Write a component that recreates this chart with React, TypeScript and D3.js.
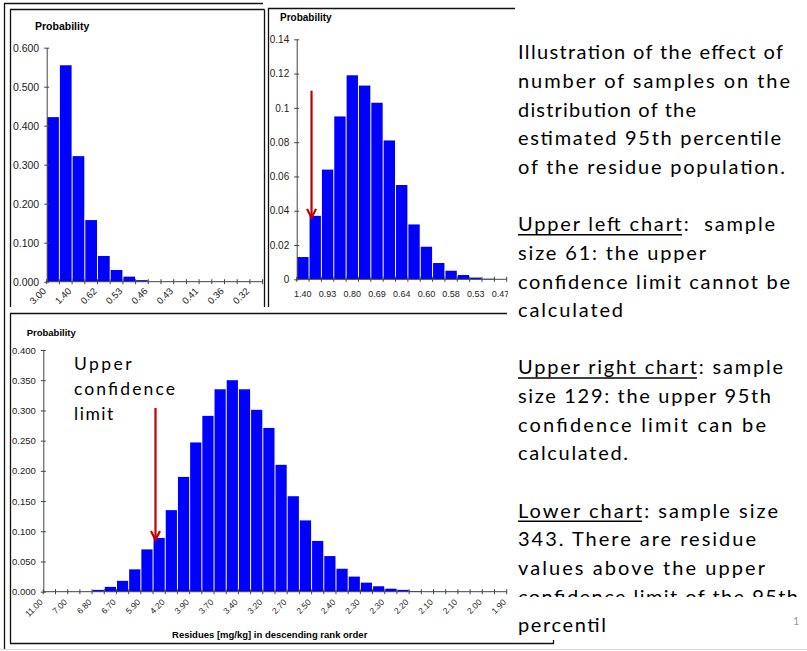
import { useEffect, useRef } from 'react';
import * as d3 from 'd3';

// upper left chart: sample size 61
const leftLabels = ['3.00', '1.40', '0.62', '0.53', '0.46', '0.43', '0.41', '0.36', '0.32'];
const leftProb = [0.422, 0.555, 0.322, 0.158, 0.066, 0.03, 0.013, 0.004, 0, 0, 0, 0, 0, 0, 0, 0, 0];
const leftTicks = [0, 0.1, 0.2, 0.3, 0.4, 0.5, 0.6];

// upper right chart: sample size 129
const rightLabels = ['1.40', '0.93', '0.80', '0.69', '0.64', '0.60', '0.58', '0.53', '0.47'];
const rightProb = [0.013, 0.037, 0.064, 0.095, 0.119, 0.113, 0.103, 0.081, 0.055, 0.032, 0.019, 0.0095, 0.005, 0.0025, 0.001, 0.0003, 0];
const rightTicks = [0, 0.02, 0.04, 0.06, 0.08, 0.1, 0.12, 0.14];

// lower chart: sample size 343
const lowerLabels = ['11.00', '7.00', '6.80', '6.70', '5.90', '4.20', '3.90', '3.70', '3.40', '3.20',
  '2.70', '2.50', '2.40', '2.30', '2.30', '2.20', '2.10', '2.10', '2.00', '1.90'];
const lowerProb = [0, 0, 0, 0, 0.003, 0.008, 0.018, 0.037, 0.07, 0.089, 0.135, 0.19, 0.247, 0.291, 0.335,
  0.35, 0.335, 0.301, 0.271, 0.21, 0.158, 0.118, 0.084, 0.059, 0.038, 0.025, 0.015, 0.009, 0.005, 0.003,
  0.001, 0, 0, 0, 0, 0, 0, 0];
const lowerTicks = [0, 0.05, 0.1, 0.15, 0.2, 0.25, 0.3, 0.35, 0.4];

const notes = [
  'Illustration of the effect of',
  'number of samples on the',
  'distribution of the',
  'estimated 95th percentile',
  'of the residue population.',
  '',
  'Upper left chart:  sample',
  'size 61: the upper',
  'confidence limit cannot be',
  'calculated',
  '',
  'Upper right chart: sample',
  'size 129: the upper 95th',
  'confidence limit can be',
  'calculated.',
  '',
  'Lower chart: sample size',
  '343. There are residue',
  'values above the upper',
  'confidence limit of the 95th',
  'percentil',
];
const underlined = ['Upper left chart', 'Upper right chart', 'Lower chart'];

const ARIAL = 'Liberation Sans, Arial, sans-serif';
const general = (d) => (d === 0 ? '0' : String(+d.toFixed(2)));

function histogram(svg, c) {
  const g = svg.append('g');
  const n = c.values.length;
  const x = d3.scaleBand().domain(d3.range(n)).range([c.x0, c.x1]);
  const y = d3.scaleLinear().domain([0, c.max]).range([c.yBase, c.yTop]);

  g.append('text')
    .attr('x', c.titleX)
    .attr('y', c.titleY)
    .attr('font-family', ARIAL)
    .attr('font-weight', 'bold')
    .attr('font-size', c.titleSize)
    .text('Probability');

  g.selectAll('rect.bar')
    .data(c.values.map((v, i) => ({ v, i })).filter(d => d.v > 0))
    .join('rect')
    .attr('class', 'bar')
    .attr('x', d => x(d.i) + 0.5)
    .attr('width', x.bandwidth() - 1)
    .attr('y', d => y(d.v))
    .attr('height', d => c.yBase - y(d.v))
    .attr('fill', '#0000ff');

  const yAxis = g.append('g')
    .attr('transform', `translate(${c.x0},0)`)
    .call(d3.axisLeft(y).tickValues(c.ticks).tickSize(2.5).tickSizeOuter(0).tickPadding(5).tickFormat(c.fmt));
  yAxis.select('.domain').attr('stroke', '#444');
  yAxis.selectAll('.tick line').attr('x2', -2.5).attr('x1', 2.5).attr('stroke', '#444');
  yAxis.selectAll('.tick text').attr('font-family', ARIAL).attr('font-size', c.yFont).attr('fill', '#222');

  // category axis, ticks on bin boundaries
  const step = x.step();
  g.append('line')
    .attr('x1', c.x0).attr('x2', c.x1)
    .attr('y1', c.yBase).attr('y2', c.yBase)
    .attr('stroke', '#444');
  g.selectAll('line.xt')
    .data(d3.range(n + 1))
    .join('line')
    .attr('class', 'xt')
    .attr('x1', i => c.x0 + i * step).attr('x2', i => c.x0 + i * step)
    .attr('y1', c.yBase - 2.5).attr('y2', c.yBase + 2.5)
    .attr('stroke', '#444');

  if (c.rotate) {
    g.selectAll('text.xl')
      .data(c.labels)
      .join('text')
      .attr('class', 'xl')
      .attr('transform', (d, i) => `translate(${c.x0 + 2 * i * step},${c.yBase + c.labelDy}) rotate(-45)`)
      .attr('text-anchor', 'end')
      .attr('font-family', ARIAL)
      .attr('font-size', c.xFont)
      .attr('fill', '#222')
      .text(d => d);
  } else {
    g.selectAll('text.xl')
      .data(c.labels)
      .join('text')
      .attr('class', 'xl')
      .attr('x', (d, i) => x(2 * i) + x.bandwidth() / 2)
      .attr('y', c.yBase + c.labelDy)
      .attr('text-anchor', 'middle')
      .attr('font-family', ARIAL)
      .attr('font-size', c.xFont)
      .attr('fill', '#222')
      .text(d => d);
  }

  if (c.arrow) {
    const ax = x(c.arrow.bin) + x.bandwidth() * 0.2;
    const tip = y(c.values[c.arrow.bin]) + 2;
    g.append('line')
      .attr('x1', ax).attr('x2', ax)
      .attr('y1', y(c.arrow.from)).attr('y2', tip - 2)
      .attr('stroke', '#c00000').attr('stroke-width', 2.2);
    g.append('path')
      .attr('d', `M${ax - 4.5},${tip - 9} L${ax},${tip} L${ax + 4.5},${tip - 9}`)
      .attr('fill', 'none')
      .attr('stroke', '#c00000').attr('stroke-width', 2.2);
  }
  return g;
}

export default function App() {
  const svgRef = useRef(null);

  useEffect(() => {
    const svg = d3.select(svgRef.current);
    svg.selectAll('*').remove();

    svg.append('rect').attr('width', 807).attr('height', 651).attr('fill', 'white');

    // upper left
    svg.append('rect').attr('x', 4).attr('y', 3).attr('width', 264).attr('height', 307).attr('fill', 'white');
    histogram(svg, {
      values: leftProb, labels: leftLabels, ticks: leftTicks, max: 0.6,
      x0: 46.7, x1: 262.6, yBase: 281.7, yTop: 47.7,
      fmt: d3.format('.3f'), yFont: 10.5, xFont: 9.5, rotate: true, labelDy: 10,
      titleX: 35, titleY: 29.5, titleSize: 10.5,
    });

    // upper right
    svg.append('rect').attr('x', 268).attr('y', 8).attr('width', 247).attr('height', 302).attr('fill', 'white');
    histogram(svg, {
      values: rightProb, labels: rightLabels, ticks: rightTicks, max: 0.14,
      x0: 296.7, x1: 506.7, yBase: 279.3, yTop: 39.3,
      fmt: general, yFont: 10, xFont: 9, rotate: false, labelDy: 17.4,
      titleX: 280, titleY: 20.5, titleSize: 10,
      arrow: { bin: 1, from: 0.11 },
    });

    // lower
    svg.append('rect').attr('x', 4).attr('y', 307).attr('width', 549).attr('height', 343).attr('fill', 'white');
    const low = histogram(svg, {
      values: lowerProb, labels: lowerLabels, ticks: lowerTicks, max: 0.4,
      x0: 43.3, x1: 506.7, yBase: 591.7, yTop: 350,
      fmt: d3.format('.3f'), yFont: 9.5, xFont: 8.5, rotate: true, labelDy: 11,
      titleX: 26.7, titleY: 336, titleSize: 9.5,
      arrow: { bin: 9, from: 0.304 },
    });
    low.append('text')
      .attr('x', 269.7).attr('y', 638.3)
      .attr('text-anchor', 'middle')
      .attr('font-family', ARIAL).attr('font-weight', 'bold').attr('font-size', 9.5)
      .text('Residues [mg/kg] in descending rank order');
    const ucl = low.append('text')
      .attr('font-family', 'Lato').attr('font-size', 17.5).attr('fill', '#000');
    [['Upper', 57.7], ['confidence', 101], ['limit', 39.3]].forEach(([t, w], i) => {
      ucl.append('tspan').attr('x', 74).attr('y', 370 + i * 25)
        .attr('textLength', w).attr('lengthAdjust', 'spacing').text(t);
    });

    // text box
    svg.append('rect').attr('x', 508).attr('y', 0).attr('width', 299).attr('height', 642).attr('fill', 'white');
    const widths = [265, 272, 178, 263, 267, 0, 257, 188, 272, 105, 0, 265, 253, 248, 110, 0, 260, 238, 247, 280, 88];
    const defs = svg.append('defs');
    defs.append('clipPath').attr('id', 'cut').append('rect')
      .attr('x', 500).attr('y', 560).attr('width', 307).attr('height', 37);
    notes.forEach((line, i) => {
      if (!line) return;
      const ty = 59.3 + i * 28.65;
      const t = svg.append('text')
        .attr('x', 518).attr('y', ty)
        .attr('font-family', 'Lato').attr('font-size', 20).attr('fill', '#000')
        .attr('textLength', widths[i]).attr('lengthAdjust', 'spacing')
        .style('white-space', 'pre')
        .text(line);
      if (i === 19) t.attr('clip-path', 'url(#cut)');
      const u = underlined.find(p => line.startsWith(p));
      if (u) {
        const box = t.node().getExtentOfChar(u.length - 1);
        svg.append('line')
          .attr('x1', 518).attr('x2', box.x + box.width)
          .attr('y1', ty + 3.5).attr('y2', ty + 3.5)
          .attr('stroke', '#000').attr('stroke-width', 1.6);
      }
    });
    svg.append('text').attr('x', 793).attr('y', 625)
      .attr('font-family', 'Lato').attr('font-size', 11).attr('fill', '#999').text('1');

    // frames
    const frame = [
      [4.5, 3.5, 4.5, 650], [4, 3.5, 263, 3.5],
      [10.5, 9.5, 10.5, 307], [10, 9.5, 264.5, 9.5], [264.5, 9.5, 264.5, 307],
      [268.5, 8.5, 268.5, 307], [268, 8.5, 515, 8.5],
      [10, 313.5, 507, 313.5], [10.5, 313.5, 10.5, 643.5], [10, 643.5, 553.5, 643.5], [553.5, 640, 553.5, 644],
    ];
    svg.selectAll('line.frame')
      .data(frame)
      .join('line')
      .attr('class', 'frame')
      .attr('x1', d => d[0]).attr('y1', d => d[1]).attr('x2', d => d[2]).attr('y2', d => d[3])
      .attr('stroke', '#111').attr('stroke-width', 1.3);
    svg.append('line').attr('x1', 0).attr('x2', 807).attr('y1', 649.5).attr('y2', 649.5)
      .attr('stroke', '#ddd');
  }, []);

  return (
    <svg ref={svgRef} width={807} height={651} style={{ position: 'absolute', left: 0, top: 0 }} />
  );
}
